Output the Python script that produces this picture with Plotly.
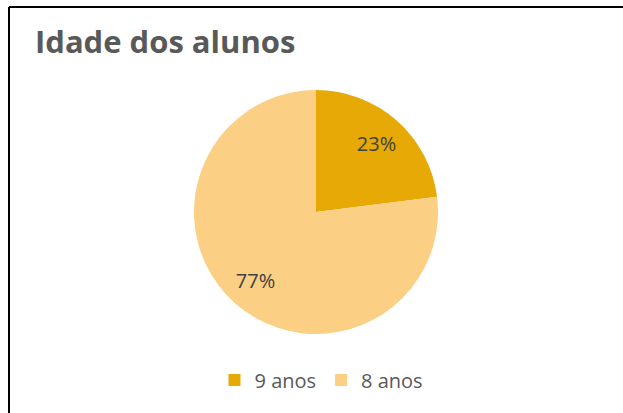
import plotly.graph_objects as go

# Idade dos alunos - pie chart
labels = ["9 anos", "8 anos"]
values = [23, 77]
colors = ["#E6A905", "#FBCF84"]

W, H = 623, 413
pie_domain = dict(x=[194 / W, 438 / W], y=[1 - 334 / H, 1 - 90 / H])

fig = go.Figure()

# the slices
fig.add_trace(go.Pie(
    labels=labels,
    values=values,
    sort=False,
    direction="clockwise",
    rotation=0,
    marker=dict(colors=colors, line=dict(width=0)),
    textinfo="none",
    domain=pie_domain,
    hoverinfo="label+percent",
))

# transparent ring on top, only to put the % labels out at ~3/4 radius
fig.add_trace(go.Pie(
    labels=labels,
    values=values,
    sort=False,
    direction="clockwise",
    rotation=0,
    hole=0.5,
    marker=dict(colors=["rgba(0,0,0,0)"] * 2, line=dict(width=0)),
    texttemplate="%{percent:.0%}",
    textposition="inside",
    insidetextorientation="horizontal",
    textfont=dict(family="Open Sans", size=20, color="#404040"),
    domain=pie_domain,
    showlegend=False,
    hoverinfo="skip",
))

# chart border (cropped: only top and left visible)
fig.add_shape(type="line", xref="paper", yref="paper",
              x0=9 / W, x1=1, y0=1 - 7 / H, y1=1 - 7 / H,
              line=dict(color="#000000", width=2))
fig.add_shape(type="line", xref="paper", yref="paper",
              x0=9 / W, x1=9 / W, y0=0, y1=1 - 7 / H,
              line=dict(color="#000000", width=2))

fig.update_layout(
    width=W, height=H,
    margin=dict(l=0, r=0, t=0, b=0),
    paper_bgcolor="white",
    plot_bgcolor="white",
    title=dict(text="<b>Idade dos alunos</b>", x=35 / W, xanchor="left",
               y=1 - 42 / H, yanchor="middle",
               font=dict(family="Open Sans", size=31, color="#595959")),
    showlegend=True,
    legend=dict(orientation="h", x=(W / 2 + 10) / W, xanchor="center",
                y=1 - 380 / H, yanchor="middle",
                font=dict(family="Open Sans", size=20, color="#595959"),
                itemwidth=30, traceorder="normal"),
)

fig.write_html("out.html",
               config={"displayModeBar": False},
               post_script="document.body.style.margin='0';"
                           "document.body.style.overflow='hidden';")
